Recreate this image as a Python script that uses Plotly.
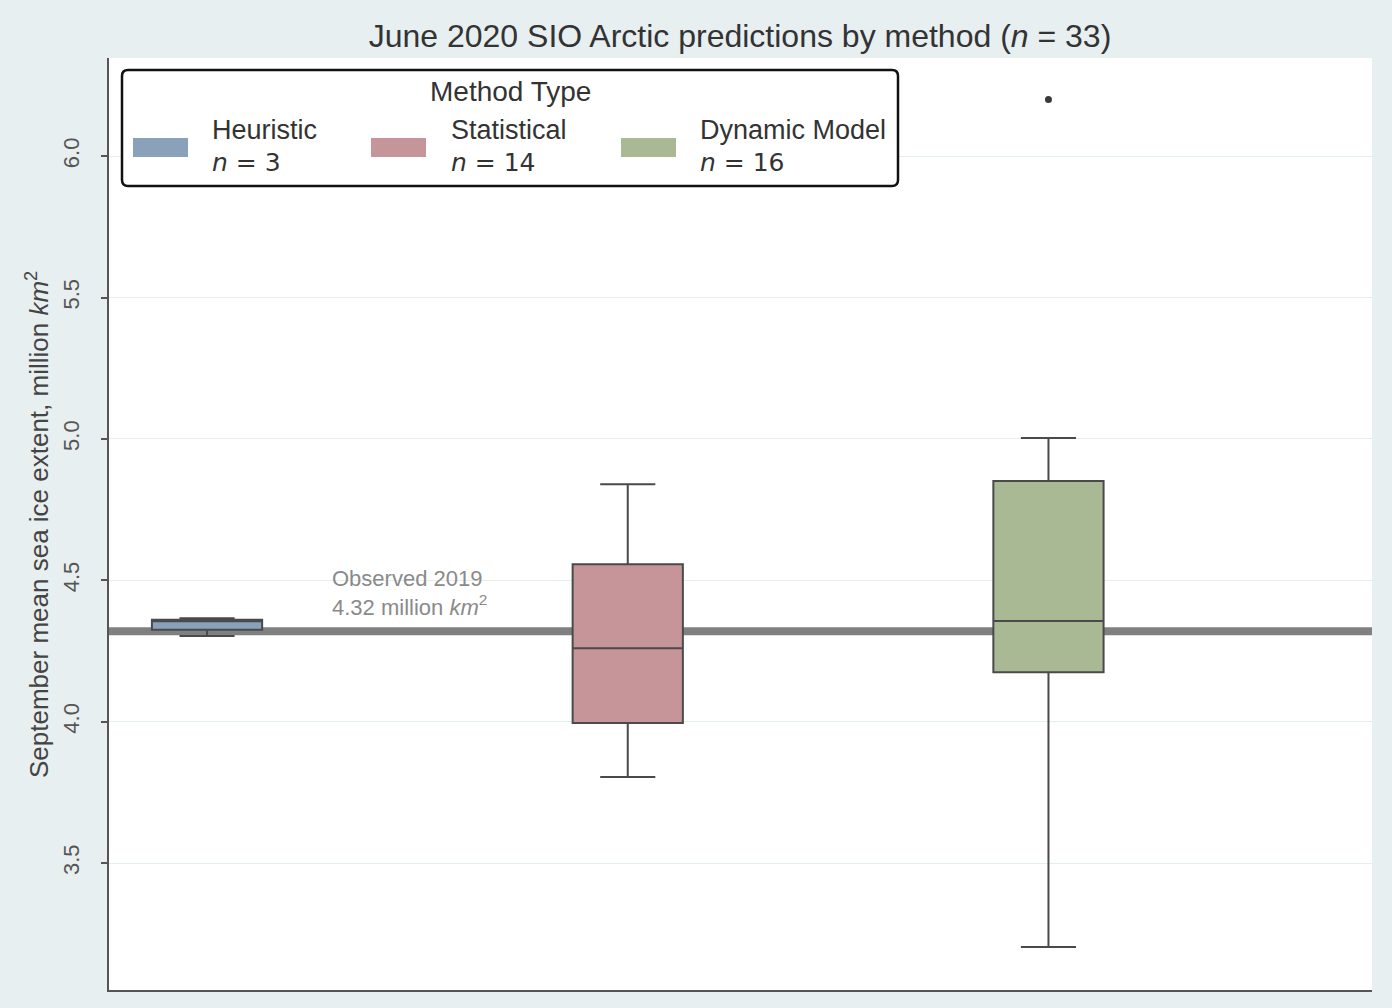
import plotly.graph_objects as go

# Forecast summary statistics (million km^2) per method type
methods = ["Heuristic", "Statistical", "Dynamic Model"]
counts = [3, 14, 16]
colors = ["#8aa1bb", "#c59599", "#a8b994"]
lower_whisker = [4.303, 3.804, 3.203]
q1 = [4.325, 3.995, 4.175]
median = [4.355, 4.260, 4.356]
q3 = [4.360, 4.557, 4.851]
upper_whisker = [4.366, 4.840, 5.003]
outlier_method = [2]
outlier_value = [6.20]
observed_2019 = 4.32
total_n = 33

W, H = 1392, 1008
ML, MR, MT, MB = 109, 20, 58, 18
PW, PH = W - ML - MR, H - MT - MB
FONT = "Liberation Sans, Arial"


def px(x):
    return (x - ML) / PW


def py(y):
    return (H - MB - y) / PH


fig = go.Figure()

for i, name in enumerate(methods):
    fig.add_trace(go.Box(
        x=[i], q1=[q1[i]], median=[median[i]], q3=[q3[i]],
        lowerfence=[lower_whisker[i]], upperfence=[upper_whisker[i]],
        name=name, width=0.262, whiskerwidth=0.5,
        fillcolor=colors[i], line=dict(color="#4a4a4a", width=2),
        boxpoints=False, showlegend=False, hoverinfo="skip",
    ))

fig.add_trace(go.Scatter(
    x=outlier_method, y=outlier_value, mode="markers",
    marker=dict(color="#3a3a3a", size=7), showlegend=False, hoverinfo="skip",
))

shapes = [
    # observed extent reference line
    dict(type="line", xref="paper", x0=0, x1=1, yref="y",
         y0=observed_2019, y1=observed_2019,
         line=dict(color="#808080", width=8), layer="between"),
]

# legend frame with rounded corners
lx0, lx1, ly0, ly1, r = 122, 898, 70, 186, 6
path = (f"M {px(lx0 + r)},{py(ly0)} L {px(lx1 - r)},{py(ly0)} "
        f"Q {px(lx1)},{py(ly0)} {px(lx1)},{py(ly0 + r)} "
        f"L {px(lx1)},{py(ly1 - r)} Q {px(lx1)},{py(ly1)} {px(lx1 - r)},{py(ly1)} "
        f"L {px(lx0 + r)},{py(ly1)} Q {px(lx0)},{py(ly1)} {px(lx0)},{py(ly1 - r)} "
        f"L {px(lx0)},{py(ly0 + r)} Q {px(lx0)},{py(ly0)} {px(lx0 + r)},{py(ly0)} Z")
shapes.append(dict(type="path", xref="paper", yref="paper", path=path,
                   fillcolor="white", line=dict(color="#111111", width=2.5),
                   layer="above"))

annotations = []
patch_x = [133, 371, 621]
text_x = [210, 449, 698]
for i, name in enumerate(methods):
    shapes.append(dict(type="rect", xref="paper", yref="paper",
                       x0=px(patch_x[i]), x1=px(patch_x[i] + 55),
                       y0=py(157), y1=py(138), fillcolor=colors[i],
                       line=dict(width=0), layer="above"))
    annotations.append(dict(xref="paper", yref="paper", x=px(text_x[i]), y=py(130),
                            text=name, showarrow=False, xanchor="left", yanchor="middle",
                            font=dict(family=FONT, size=27, color="#333333")))
    annotations.append(dict(xref="paper", yref="paper", x=px(text_x[i]), y=py(162),
                            text=f"<i>n</i> = {counts[i]}", showarrow=False,
                            xanchor="left", yanchor="middle",
                            font=dict(family="DejaVu Sans", size=25, color="#333333")))

annotations.append(dict(xref="paper", yref="paper", x=px(510), y=py(91),
                        text="Method Type", showarrow=False, xanchor="center",
                        yanchor="middle",
                        font=dict(family=FONT, size=28, color="#333333")))

annotations.append(dict(xref="paper", yref="paper", x=px(330), y=py(593),
                        text="Observed 2019<br>4.32 million <i>km</i><sup>2</sup>",
                        showarrow=False, xanchor="left", yanchor="middle", align="left",
                        font=dict(family=FONT, size=22, color="#8a8a8a")))

annotations.append(dict(xref="paper", yref="paper", x=px(37), y=py(525),
                        text="September mean sea ice extent, million <i>km</i><sup>2</sup>",
                        showarrow=False, textangle=-90, xanchor="center", yanchor="middle",
                        font=dict(family=FONT, size=26, color="#444444")))

fig.update_layout(
    width=W, height=H,
    margin=dict(l=ML, r=MR, t=MT, b=MB),
    paper_bgcolor="#e8eff0", plot_bgcolor="white",
    title=dict(text=f"June 2020 SIO Arctic predictions by method (<i>n</i> = {total_n})",
               x=px(740), xref="paper", xanchor="center",
               y=1 - 36 / H, yref="container", yanchor="middle",
               font=dict(family=FONT, size=32, color="#333333")),
    shapes=shapes, annotations=annotations,
    showlegend=False,
)

fig.update_xaxes(range=[-0.233, 2.769], showgrid=False, zeroline=False,
                 showticklabels=False, ticks="", showline=True,
                 linecolor="#555555", linewidth=2)
fig.update_yaxes(range=[3.051, 6.347], tickvals=[3.5, 4.0, 4.5, 5.0, 5.5, 6.0],
                 ticktext=["3.5", "4.0", "4.5", "5.0", "5.5", "6.0"],
                 tickangle=-90, ticks="outside", ticklen=6, tickwidth=1.5,
                 tickcolor="#555555", ticklabelstandoff=13,
                 tickfont=dict(family=FONT, size=22, color="#555555"),
                 showgrid=True, gridcolor="#e4efed", gridwidth=1, zeroline=False,
                 showline=True, linecolor="#555555", linewidth=2)

fig.write_html("out.html")
